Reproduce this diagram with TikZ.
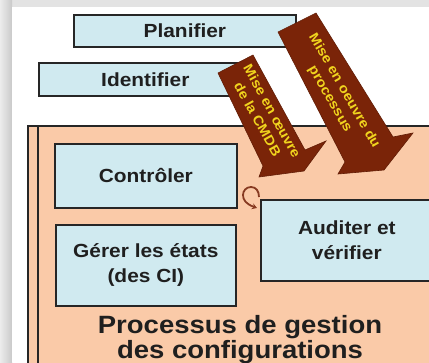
\documentclass[tikz,border=0pt]{standalone}
\usepackage{fontspec}
\setmainfont{Liberation Sans}[FakeStretch=1.1]
\usetikzlibrary{arrows.meta}
\definecolor{boxblue}{RGB}{208,234,240}
\definecolor{peach}{RGB}{250,202,168}
\definecolor{arrowbrown}{RGB}{122,36,8}
\definecolor{textyellow}{RGB}{240,212,30}
\begin{document}
\begin{tikzpicture}[x=1pt,y=-1pt,
  bluebox/.style={draw=black!85, line width=1.7pt, fill=boxblue, inner sep=0pt,
    anchor=north west, font=\bfseries\fontsize{19}{25}\selectfont, text=black!88, align=center},
  blockarrow/.style={fill=arrowbrown, draw=arrowbrown!80!black, line width=0.6pt},
  arrowtext/.style={text=textyellow, font=\bfseries\fontsize{13.5}{16.5}\selectfont, align=center, inner sep=0pt},
  curl/.style={draw=arrowbrown!90, line width=1.8pt, -{Stealth[length=5pt,width=6pt]}}]
\useasboundingbox (0,0) rectangle (429,362);
\clip (0,0) rectangle (429,362);
% frame
\fill[gray!22] (0,0) rectangle (429,362);
\shade[left color=gray!15, right color=gray!42] (0,0) rectangle (12,362);
\fill[white] (12,7) rectangle (429,362);
% top boxes
\node[bluebox, minimum width=222pt, minimum height=32pt] (plan) at (73,14) {Planifier};
\node[bluebox, minimum width=213pt, minimum height=33pt] (ident) at (38,62) {Identifier};
% process frame
\draw[fill=peach, line width=1.7pt, draw=black!85] (28,126) rectangle (445,390);
\draw[line width=1.7pt, draw=black!85] (38,127) -- (38,390);
% curl (drawn under the box it points to)
\coordinate (curlstart) at (259,197);
\coordinate (curlend) at (257,208);
\draw[curl] (curlstart) .. controls (259,191) and (256,187) .. (251,187)
  .. controls (246,187) and (243,191) .. (243,195)
  .. controls (243,200) and (246,204) .. (curlend);
% inner boxes
\node[bluebox, minimum width=182pt, minimum height=64pt] (ctrl) at (54,143) {Contrôler};
\node[bluebox, minimum width=180pt, minimum height=81pt] (gerer) at (55,224) {Gérer les états\\(des CI)};
\node[bluebox, minimum width=172pt, minimum height=81pt] (audit) at (260,199) {Auditer et\\vérifier};
% title
\node[font=\bfseries\fontsize{25}{25}\selectfont, text=black!88, align=center, anchor=base, inner sep=0pt] (title) at (240,358) {Processus de gestion\\des configurations};
% block arrows
\draw[blockarrow] (218,73) -- (253,55) -- (305,150) -- (326,141) -- (304,171) -- (259,177) -- (263,166) -- cycle;
\draw[blockarrow] (278,32) -- (316,13) -- (393,137) -- (413,133) -- (384,170) -- (338,174) -- (345,162) -- cycle;
\node[arrowtext, rotate=-61] (cmdb) at (265,115) {Mise en œuvre\\de la CMDB};
\node[arrowtext, rotate=-60] (proc) at (337,95) {Mise en oeuvre du\\processus};
\end{tikzpicture}
\end{document}
